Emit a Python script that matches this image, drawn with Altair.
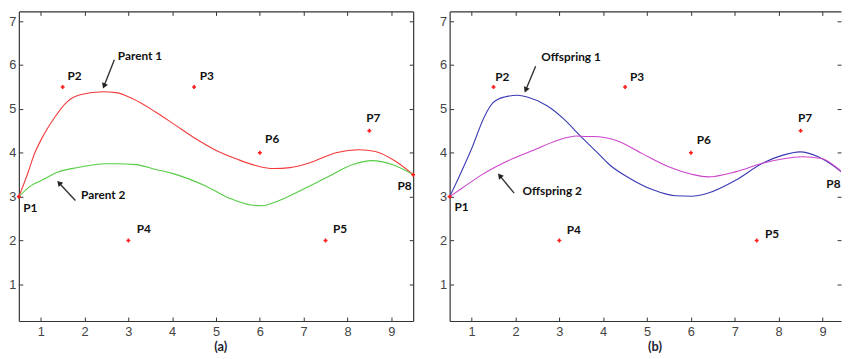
import math
import altair as alt
import pandas as pd

# ---------------- data ----------------
ctrl_names = ["P1", "P2", "P3", "P4", "P5", "P6", "P7", "P8"]
ctrl_x = [0.5, 1.5, 4.5, 3.0, 7.5, 6.0, 8.5, 9.5]
ctrl_y = [3.0, 5.5, 5.5, 2.0, 2.0, 4.0, 4.5, 3.5]

# label anchor positions (vertical middle); alignment per label
lab_a_x = [0.60, 1.61, 4.63, 3.19, 7.67, 6.12, 8.43, 9.14]
lab_a_y = [2.73, 5.74, 5.74, 2.27, 2.27, 4.31, 4.80, 3.25]
lab_a_align = ["left"] * 8
lab_b_x = [0.61, 1.54, 4.61, 3.17, 7.69, 6.13, 8.44, 9.41]
lab_b_y = [2.76, 5.73, 5.73, 2.24, 2.15, 4.29, 4.80, 3.28]
lab_b_align = ["left"] * 7 + ["right"]

# Parent 1 (red)
p1_x = [0.5, 0.70, 0.85, 1.07, 1.30, 1.60, 1.90, 2.42, 2.72, 3.10, 3.62, 4.07, 4.52,
        4.97, 5.49, 5.94, 6.32, 6.69, 7.14, 7.74, 8.27, 8.64, 9.09, 9.5]
p1_y = [3.0, 3.52, 3.96, 4.41, 4.78, 5.16, 5.32, 5.39, 5.37, 5.23, 4.93, 4.63, 4.33,
        4.07, 3.85, 3.70, 3.64, 3.66, 3.77, 4.00, 4.07, 4.03, 3.81, 3.5]
# Parent 2 (green)
p2_x = [0.5, 0.78, 1.0, 1.37, 1.82, 2.50, 2.72, 3.17, 3.62, 4.0, 4.75, 5.34, 5.79,
        6.05, 6.39, 6.99, 7.59, 8.12, 8.57, 9.02, 9.5]
p2_y = [3.0, 3.25, 3.36, 3.55, 3.66, 3.75, 3.75, 3.73, 3.62, 3.53, 3.25, 2.95, 2.81,
        2.79, 2.89, 3.17, 3.47, 3.73, 3.82, 3.73, 3.5]
# Offspring 1 (blue)
o1_x = [0.5, 0.70, 1.0, 1.30, 1.49, 1.75, 2.05, 2.27, 2.72, 3.10, 3.47, 3.85, 4.15,
        4.60, 5.12, 5.64, 6.02, 6.36, 7.03, 7.63, 8.08, 8.49, 8.90, 9.28, 9.5]
o1_y = [3.0, 3.42, 4.09, 4.84, 5.14, 5.27, 5.31, 5.27, 5.07, 4.77, 4.39, 4.02, 3.72,
        3.42, 3.16, 3.02, 3.01, 3.07, 3.38, 3.76, 3.94, 4.02, 3.91, 3.68, 3.5]
# Offspring 2 (magenta)
o2_x = [0.5, 0.78, 1.22, 1.82, 2.42, 2.95, 3.40, 3.62, 3.77, 4.30, 4.89, 5.49, 6.02,
        6.39, 7.03, 7.63, 8.53, 8.98, 9.35, 9.5]
o2_y = [3.0, 3.19, 3.49, 3.81, 4.06, 4.28, 4.38, 4.37, 4.37, 4.28, 3.98, 3.68, 3.51,
        3.45, 3.57, 3.76, 3.91, 3.87, 3.64, 3.5]

# annotations
ann_a_text = ["Parent 1", "Parent 2"]
ann_a_x = [2.76, 1.92]
ann_a_y = [6.21, 3.04]
arr_a_tail = [(2.68, 6.12), (1.79, 2.91)]
arr_a_head = [(2.42, 5.46), (1.375, 3.36)]

ann_b_text = ["Offspring 1", "Offspring 2"]
ann_b_x = [2.59, 2.16]
ann_b_y = [6.17, 3.12]
arr_b_tail = [(2.46, 5.97), (1.97, 3.08)]
arr_b_head = [(2.21, 5.37), (1.60, 3.53)]

captions = ["(a)", "(b)"]
cap_x = [5.11, 5.18]
cap_y = [-0.42, -0.42]

x_ticks = [1, 2, 3, 4, 5, 6, 7, 8, 9]
y_ticks = [1, 2, 3, 4, 5, 6, 7]

Y_DOMAIN = [0.165, 7.22]
H = 314
AXIS_COLOR = "#333333"
LABEL_FONT = "Liberation Sans"
ANN_FONT = "Lato"


def panel(curves, names, colors, lab_x, lab_y, lab_align, ann_text, ann_x, ann_y,
          tails, heads, cap, cx, cy, x_max, width, clip_right, right_border):
    xs = alt.Scale(domain=[0.5, x_max], nice=False, zero=False)
    ys = alt.Scale(domain=Y_DOMAIN, nice=False, zero=False)

    rows = []
    for name, (cxs, cys) in zip(names, curves):
        for i, (a, b) in enumerate(zip(cxs, cys)):
            rows.append({"series": name, "x": a, "y": b, "order": i})
    curve_df = pd.DataFrame(rows)
    pts_df = pd.DataFrame({"x": ctrl_x, "y": ctrl_y, "name": ctrl_names})
    lab_df = pd.DataFrame({"x": lab_x, "y": lab_y, "name": ctrl_names, "al": lab_align})

    # axes
    ax_bottom_labels = alt.Axis(orient="bottom", values=x_ticks, ticks=False, grid=False,
                                labelFont=LABEL_FONT, labelFontSize=13, labelColor="#444444",
                                labelPadding=5, domain=True, domainColor=AXIS_COLOR,
                                domainWidth=1.2, title=None, labelFlush=False)
    ax_left_labels = alt.Axis(orient="left", values=y_ticks, ticks=False, grid=False,
                              labelFont=LABEL_FONT, labelFontSize=13, labelColor="#444444",
                              labelPadding=3, domain=True, domainColor=AXIS_COLOR,
                              domainWidth=1.2, title=None, labelFlush=False)
    ax_bottom_in = alt.Axis(orient="top", offset=-H, values=x_ticks, labels=False,
                            ticks=True, tickSize=4, tickColor=AXIS_COLOR, domain=False,
                            grid=False, title=None)
    ax_left_in = alt.Axis(orient="right", offset=-width, values=y_ticks, labels=False,
                          ticks=True, tickSize=4, tickColor=AXIS_COLOR, domain=False,
                          grid=False, title=None)
    ax_top_in = alt.Axis(orient="bottom", offset=-H, values=x_ticks, labels=False,
                         ticks=True, tickSize=4, tickColor=AXIS_COLOR, domain=True,
                         domainColor=AXIS_COLOR, domainWidth=1.2, grid=False, title=None)
    ax_right_in = alt.Axis(orient="left", offset=-width, values=y_ticks, labels=False,
                           ticks=True, tickSize=4, tickColor=AXIS_COLOR,
                           domain=right_border, domainColor=AXIS_COLOR, domainWidth=1.2,
                           grid=False, title=None)

    lines = alt.Chart(curve_df).mark_line(strokeWidth=1.1, interpolate="monotone",
                                          clip=clip_right).encode(
        x=alt.X("x:Q", scale=xs, axis=ax_bottom_in),
        y=alt.Y("y:Q", scale=ys, axis=ax_left_in),
        color=alt.Color("series:N", scale=alt.Scale(domain=names, range=colors), legend=None),
        order="order:Q",
        detail="series:N",
    )

    # only the control points that fall inside the visible x range are drawn
    pts = alt.Chart(pts_df).transform_filter(alt.datum.x <= x_max).mark_point(
        shape="cross", filled=True, size=16, color="#ff1a1a", opacity=1).encode(
        x=alt.X("x:Q", scale=xs, axis=ax_bottom_labels),
        y=alt.Y("y:Q", scale=ys, axis=ax_left_labels),
    )

    label_layers = []
    for al in sorted(set(lab_align)):
        sub = lab_df[lab_df["al"] == al]
        label_layers.append(
            alt.Chart(sub).mark_text(font=ANN_FONT, fontWeight="bold", fontSize=12,
                                     align=al, baseline="middle", color="#111111").encode(
                x=alt.X("x:Q", scale=xs, axis=ax_top_in if al == "left" else None),
                y=alt.Y("y:Q", scale=ys, axis=ax_right_in if al == "left" else None),
                text="name:N",
            )
        )

    ann_df = pd.DataFrame({"x": ann_x, "y": ann_y, "t": ann_text})
    ann = alt.Chart(ann_df).mark_text(font=ANN_FONT, fontWeight="bold", fontSize=12,
                                      align="left", baseline="middle", color="#111111").encode(
        x=alt.X("x:Q", scale=xs, axis=None),
        y=alt.Y("y:Q", scale=ys, axis=None),
        text="t:N",
    )

    arr_rows = []
    head_rows = []
    back = 0.065
    for (tx, ty), (hx, hy) in zip(tails, heads):
        dx, dy = hx - tx, hy - ty
        ln = math.hypot(dx, dy)
        ux, uy = dx / ln, dy / ln
        ang = math.degrees(math.atan2(dx, dy)) % 360
        arr_rows.append({"x": tx, "y": ty, "x2": hx - ux * back, "y2": hy - uy * back})
        head_rows.append({"x": hx - ux * back, "y": hy - uy * back, "angle": ang})
    arr_df = pd.DataFrame(arr_rows)
    head_df = pd.DataFrame(head_rows)

    shafts = alt.Chart(arr_df).mark_rule(strokeWidth=1.4, color="#333333").encode(
        x=alt.X("x:Q", scale=xs, axis=None),
        y=alt.Y("y:Q", scale=ys, axis=None),
        x2="x2:Q", y2="y2:Q",
    )
    heads_m = alt.Chart(head_df).mark_point(shape="triangle-up", filled=True, size=40,
                                            color="#222222", opacity=1).encode(
        x=alt.X("x:Q", scale=xs, axis=None),
        y=alt.Y("y:Q", scale=ys, axis=None),
        angle=alt.Angle("angle:Q", scale=None),
    )

    cap_df = pd.DataFrame({"x": [cx], "y": [cy], "t": [cap]})
    caption = alt.Chart(cap_df).mark_text(font=ANN_FONT, fontWeight="bold", fontSize=13,
                                          align="center", baseline="middle",
                                          color="#222233").encode(
        x=alt.X("x:Q", scale=xs, axis=None),
        y=alt.Y("y:Q", scale=ys, axis=None),
        text="t:N",
    )

    return alt.layer(lines, pts, *label_layers, ann, shafts, heads_m, caption).resolve_axis(
        x="independent", y="independent"
    ).properties(width=width, height=H)


PB_W = 397
pa = panel([(p1_x, p1_y), (p2_x, p2_y)], ["Parent 1", "Parent 2"], ["#f23a3a", "#55cc44"],
           lab_a_x, lab_a_y, lab_a_align, ann_a_text, ann_a_x, ann_a_y, arr_a_tail, arr_a_head,
           captions[0], cap_x[0], cap_y[0], 9.5, 400, False, True)
pb = panel([(o1_x, o1_y), (o2_x, o2_y)], ["Offspring 1", "Offspring 2"], ["#3a3ab4", "#cc44cc"],
           lab_b_x, lab_b_y, lab_b_align, ann_b_text, ann_b_x, ann_b_y, arr_b_tail, arr_b_head,
           captions[1], cap_x[1], cap_y[1], 0.5 + PB_W / 44.5, PB_W, True, False)

chart = alt.hconcat(pa, pb, spacing=23).resolve_scale(color="independent").properties(
    padding=0, background="white"
).configure_view(stroke=None)

chart.save("out.html", embed_options={"renderer": "svg", "actions": False})
